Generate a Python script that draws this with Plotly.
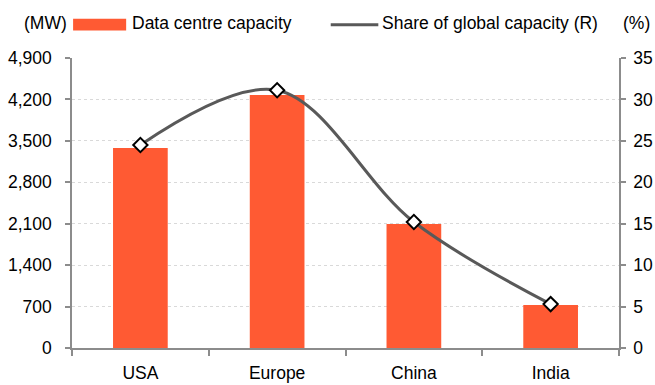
import plotly.graph_objects as go

regions = ["USA", "Europe", "China", "India"]
capacity_mw = [3380, 4275, 2095, 727]
share_pct = [24.5, 31.1, 15.2, 5.3]
left_ticks = [0, 700, 1400, 2100, 2800, 3500, 4200, 4900]
right_ticks = [0, 5, 10, 15, 20, 25, 30, 35]

BAR = "#FF5A33"
LINE = "#595959"
AXIS = "#8C8C8C"
FONT = "Liberation Sans, Arial, sans-serif"
FS = 17.5

fig = go.Figure()
fig.add_trace(go.Bar(
    x=regions, y=capacity_mw, name="Data centre capacity",
    marker=dict(color=BAR, line=dict(width=0)), width=0.4, yaxis="y",
))
fig.add_trace(go.Scatter(
    x=regions, y=share_pct, name="Share of global capacity (R)", yaxis="y2",
    mode="lines+markers", line=dict(color=LINE, width=3, shape="spline", smoothing=1),
    marker=dict(symbol="diamond", size=11, color="white", line=dict(color="black", width=2)),
))

fig.update_layout(
    width=655, height=385,
    margin=dict(l=72, r=36, t=58, b=37),
    paper_bgcolor="white", plot_bgcolor="white",
    font=dict(family=FONT, size=FS, color="black"),
    showlegend=False, bargap=0.6,
    xaxis=dict(
        showline=True, linecolor=AXIS, linewidth=1.5, automargin=False,
        ticks="outside", tickson="boundaries", ticklen=6, tickcolor=AXIS, tickwidth=1.5,
        showgrid=False, tickfont=dict(size=FS), ticklabelstandoff=8,
    ),
    yaxis=dict(
        range=[0, 4900], tickvals=left_ticks, tickformat=",", automargin=False,
        showline=True, linecolor=AXIS, linewidth=1.5,
        ticks="outside", ticklen=5, tickcolor=AXIS, tickwidth=1.5,
        showgrid=True, gridcolor="#D9D9D9", griddash="dot", gridwidth=1,
        zeroline=False, tickfont=dict(size=FS), ticklabelstandoff=10,
    ),
    yaxis2=dict(
        range=[0, 35], tickvals=right_ticks, overlaying="y", side="right", automargin=False,
        showline=True, linecolor=AXIS, linewidth=1.5,
        ticks="outside", ticklen=5, tickcolor=AXIS, tickwidth=1.5,
        showgrid=False, zeroline=False, tickfont=dict(size=FS), ticklabelstandoff=4,
    ),
)

# Legend row and axis unit labels drawn across the top
fig.add_shape(type="rect", xref="paper", yref="paper",
              x0=0.002, x1=0.099, y0=1.095, y1=1.135,
              fillcolor=BAR, line=dict(width=0))
fig.add_shape(type="line", xref="paper", yref="paper",
              x0=0.473, x1=0.56, y0=1.115, y1=1.115,
              line=dict(color=LINE, width=3))
fig.add_trace(go.Scatter(
    x=[0.5165], y=[1.115], xaxis="x3", yaxis="y3", mode="markers",
    marker=dict(symbol="diamond", size=10, color="white", line=dict(color="black", width=2)),
    hoverinfo="skip", cliponaxis=False,
))
fig.update_layout(
    xaxis3=dict(domain=[0, 1], range=[0, 1], visible=False, anchor="y3", overlaying="x"),
    yaxis3=dict(domain=[0, 1], range=[0, 1], visible=False, anchor="x3", overlaying="y"),
)
ann = dict(xref="paper", yref="paper", showarrow=False, font=dict(family=FONT, size=FS),
           yanchor="middle")
fig.add_annotation(x=-0.092, y=1.12, text="(MW)", xanchor="left", **ann)
fig.add_annotation(x=0.106, y=1.12, text="Data centre capacity", xanchor="left", **ann)
fig.add_annotation(x=0.563, y=1.12, text="Share of global capacity (R)", xanchor="left", **ann)
fig.add_annotation(x=1.004, y=1.12, text="(%)", xanchor="left", **ann)

fig.write_html("out.html")
